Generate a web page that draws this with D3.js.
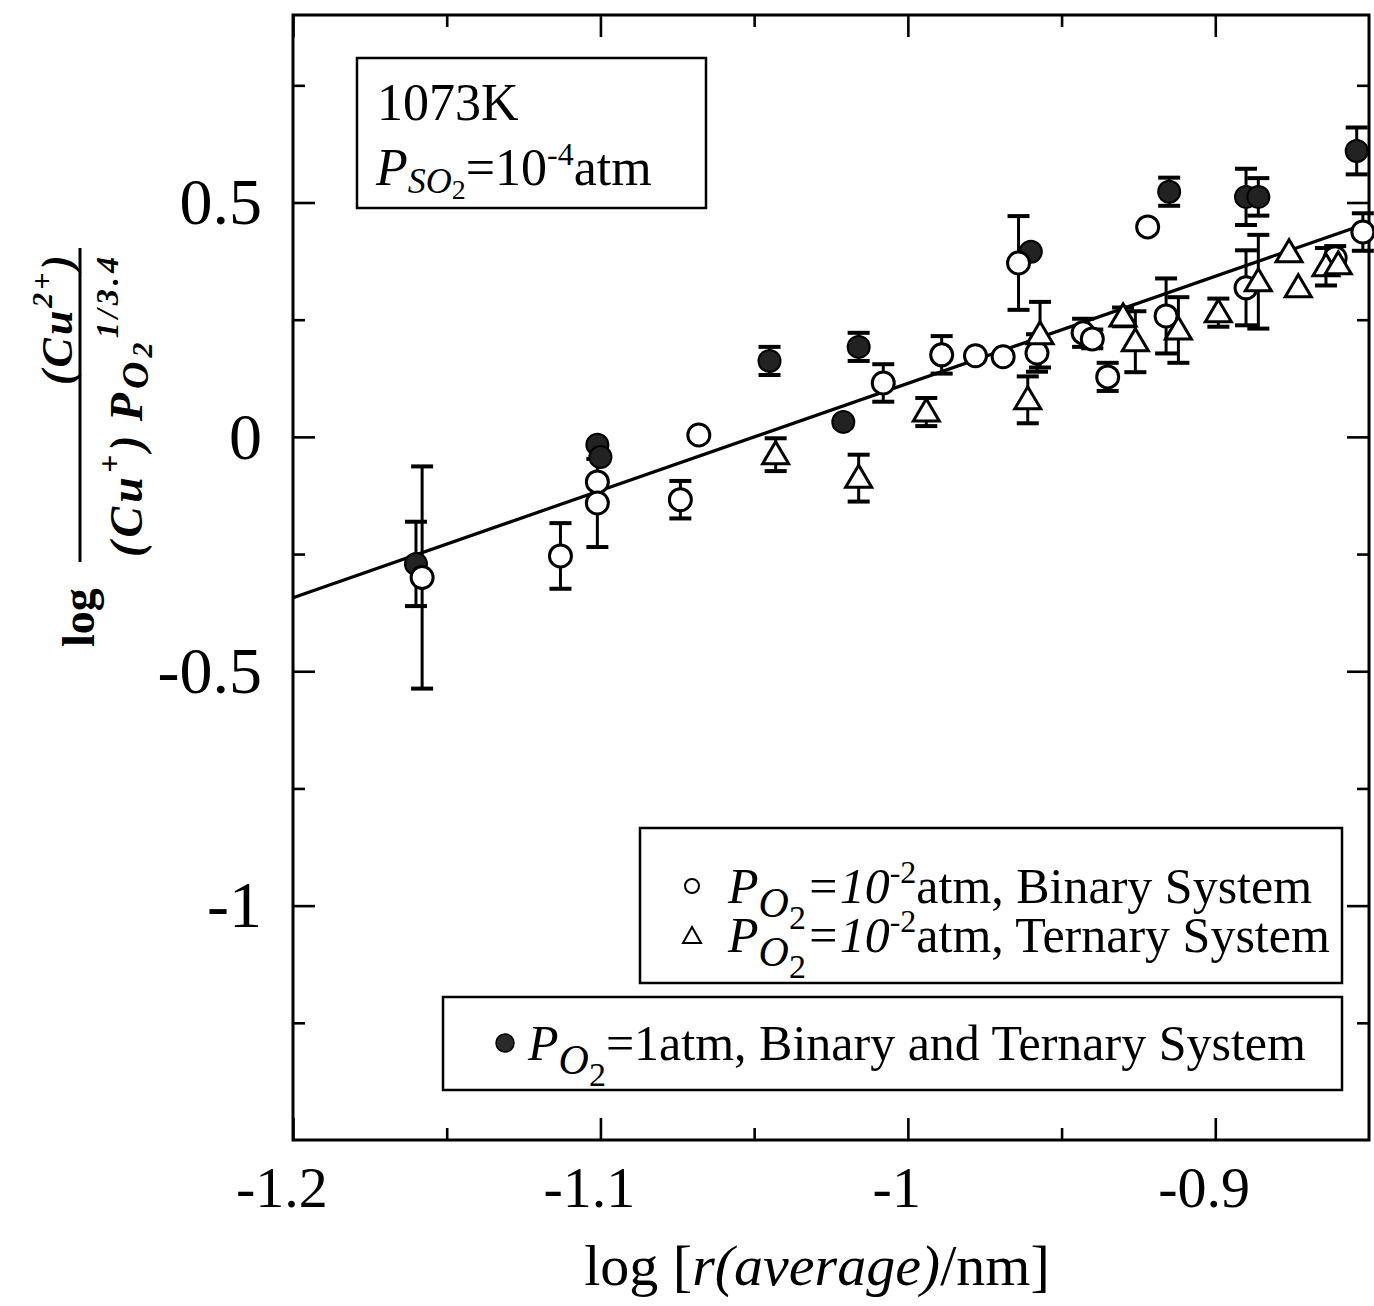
<!DOCTYPE html>
<html>
<head>
<meta charset="utf-8">
<script src="https://cdn.jsdelivr.net/npm/d3@7"></script>
<style>
  body { margin: 0; background: #fff; }
  text { font-family: "Liberation Serif", "Times New Roman", serif; fill: #000; }
</style>
</head>
<body>
<div id="chart"></div>
<script>
// axis ticks
var xMajor = [-1.2, -1.1, -1, -0.9],
    xMinor = [-1.15, -1.05, -0.95],
    yMajor = [0.5, 0, -0.5, -1],
    yMinor = [0.75, 0.25, -0.25, -0.75, -1.25];

// PO2 = 10^-2 atm, binary system (open circles)
var openX   = [-1.158, -1.101, -1.101, -1.113, -1.074, -1.068, -1.008, -0.989, -0.978, -0.969, -0.964, -0.958, -0.943, -0.940, -0.935, -0.922, -0.916, -0.890, -0.861, -0.852],
    openY   = [-0.300, -0.096, -0.141, -0.254, -0.134, 0.004, 0.115, 0.175, 0.173, 0.171, 0.371, 0.179, 0.222, 0.209, 0.128, 0.448, 0.258, 0.318, 0.382, 0.437],
    openErr = [0.237, 0, 0.094, 0.07, 0.04, 0, 0.04, 0.04, 0, 0, 0.10, 0.04, 0.03, 0.02, 0.03, 0, 0.08, 0.08, 0.025, 0.04];

// PO2 = 10^-2 atm, ternary system (open triangles)
var triX   = [-1.043, -1.016, -0.994, -0.961, -0.957, -0.930, -0.926, -0.912, -0.899, -0.886, -0.876, -0.873, -0.864, -0.860],
    triY   = [-0.038, -0.088, 0.053, 0.079, 0.218, 0.256, 0.203, 0.228, 0.265, 0.331, 0.393, 0.318, 0.363, 0.367],
    triErr = [0.035, 0.05, 0.03, 0.05, 0.07, 0.02, 0.065, 0.07, 0.03, 0.10, 0, 0, 0.04, 0];

// PO2 = 1 atm, binary and ternary (filled circles)
var fillX   = [-1.160, -1.101, -1.100, -1.045, -1.021, -1.016, -0.960, -0.915, -0.890, -0.886, -0.854],
    fillY   = [-0.271, -0.017, -0.043, 0.162, 0.032, 0.192, 0.395, 0.523, 0.512, 0.512, 0.610],
    fillErr = [0.09, 0, 0, 0.03, 0, 0.03, 0, 0.03, 0.06, 0.04, 0.05];

// fitted line
var lineX = [-1.2, -0.85],
    lineY = [-0.343, 0.457];

var W = 1374, H = 1306;
var plotL = 293, plotR = 1369, plotT = 15, plotB = 1140;

var svg = d3.select('#chart').append('svg')
    .attr('width', W).attr('height', H);
svg.append('rect').attr('width', W).attr('height', H).attr('fill', '#fff');

var x = d3.scaleLinear().domain([-1.2, -0.85]).range([plotL, plotR]);
var y = d3.scaleLinear().domain([-1.5, 0.9]).range([plotB, plotT]);

function zip(xs, ys, es) {
    return xs.map(function(d, i) { return {x: d, y: ys[i], e: es ? es[i] : 0}; });
}
var openData = zip(openX, openY, openErr),
    triData = zip(triX, triY, triErr),
    fillData = zip(fillX, fillY, fillErr);

// axes (ticks pointing inwards)
function styleAxis(g) {
    g.select('.domain').remove();
    g.selectAll('line').attr('stroke', '#000').attr('stroke-width', 2.6);
    g.selectAll('text').style('font-size', '58px').attr('fill', '#000')
        .style('font-family', '"Liberation Serif", serif');
}
var fmt = function(d) { return String(d); };

svg.append('g').attr('transform', 'translate(0,' + plotB + ')')
    .call(d3.axisBottom(x).tickValues(xMajor).tickSize(-22).tickPadding(26).tickFormat(fmt))
    .call(styleAxis)
    .selectAll('text').attr('dx', '-0.2em');
svg.append('g').attr('transform', 'translate(0,' + plotB + ')')
    .call(d3.axisBottom(x).tickValues(xMinor).tickSize(-12).tickFormat(''))
    .call(styleAxis);
svg.append('g').attr('transform', 'translate(0,' + plotT + ')')
    .call(d3.axisTop(x).tickValues(xMajor).tickSize(-22).tickFormat(''))
    .call(styleAxis);
svg.append('g').attr('transform', 'translate(0,' + plotT + ')')
    .call(d3.axisTop(x).tickValues(xMinor).tickSize(-12).tickFormat(''))
    .call(styleAxis);

svg.append('g').attr('transform', 'translate(' + plotL + ',0)')
    .call(d3.axisLeft(y).tickValues(yMajor).tickSize(-22).tickPadding(31).tickFormat(fmt))
    .call(styleAxis)
    .selectAll('text').style('font-size', '66px');
svg.append('g').attr('transform', 'translate(' + plotL + ',0)')
    .call(d3.axisLeft(y).tickValues(yMinor).tickSize(-12).tickFormat(''))
    .call(styleAxis);
svg.append('g').attr('transform', 'translate(' + plotR + ',0)')
    .call(d3.axisRight(y).tickValues(yMajor).tickSize(-22).tickFormat(''))
    .call(styleAxis);
svg.append('g').attr('transform', 'translate(' + plotR + ',0)')
    .call(d3.axisRight(y).tickValues(yMinor).tickSize(-12).tickFormat(''))
    .call(styleAxis);

svg.append('rect')
    .attr('x', plotL).attr('y', plotT)
    .attr('width', plotR - plotL).attr('height', plotB - plotT)
    .attr('fill', 'none').attr('stroke', '#000').attr('stroke-width', 3);

// fitted line
svg.append('path')
    .datum(d3.zip(lineX, lineY))
    .attr('d', d3.line().x(function(d) { return x(d[0]); }).y(function(d) { return y(d[1]); }))
    .attr('fill', 'none').attr('stroke', '#000').attr('stroke-width', 3.2);

// error bars
function errorBars(data) {
    var g = svg.append('g').attr('stroke', '#000').attr('stroke-width', 3);
    var sel = g.selectAll('g').data(data.filter(function(d) { return d.e > 0; }))
        .enter().append('g');
    sel.append('line')
        .attr('x1', function(d) { return x(d.x); }).attr('x2', function(d) { return x(d.x); })
        .attr('y1', function(d) { return y(d.y + d.e); }).attr('y2', function(d) { return y(d.y - d.e); });
    [1, -1].forEach(function(s) {
        sel.append('line')
            .attr('x1', function(d) { return x(d.x) - 11; }).attr('x2', function(d) { return x(d.x) + 11; })
            .attr('y1', function(d) { return y(d.y + s * d.e); }).attr('y2', function(d) { return y(d.y + s * d.e); })
            .attr('stroke-width', 4);
    });
}
errorBars(fillData);
errorBars(openData);
errorBars(triData);

var triPath = 'M0,-13L13,9L-13,9Z';

svg.append('g').selectAll('circle').data(fillData).enter().append('circle')
    .attr('cx', function(d) { return x(d.x); }).attr('cy', function(d) { return y(d.y); })
    .attr('r', 11).attr('fill', '#222').attr('stroke', '#000').attr('stroke-width', 2);

svg.append('g').selectAll('circle').data(openData).enter().append('circle')
    .attr('cx', function(d) { return x(d.x); }).attr('cy', function(d) { return y(d.y); })
    .attr('r', 11).attr('fill', '#fff').attr('stroke', '#000').attr('stroke-width', 3);

svg.append('g').selectAll('path').data(triData).enter().append('path')
    .attr('transform', function(d) { return 'translate(' + x(d.x) + ',' + y(d.y) + ')'; })
    .attr('d', triPath).attr('fill', '#fff').attr('stroke', '#000')
    .attr('stroke-width', 3).attr('stroke-linejoin', 'miter');

// condition box
svg.append('rect').attr('x', 357).attr('y', 58).attr('width', 349).attr('height', 150)
    .attr('fill', '#fff').attr('stroke', '#000').attr('stroke-width', 2.5);
svg.append('text').attr('x', 377).attr('y', 120).style('font-size', '52px').text('1073K');
var t2 = svg.append('text').attr('x', 376).attr('y', 185).style('font-size', '52px');
t2.append('tspan').style('font-style', 'italic').text('P');
t2.append('tspan').style('font-style', 'italic').style('font-size', '36px').attr('dy', 8).text('SO');
t2.append('tspan').style('font-size', '28px').attr('dy', 6).text('2');
t2.append('tspan').attr('dy', -14).text('=10');
t2.append('tspan').style('font-size', '32px').attr('dy', -20).text('-4');
t2.append('tspan').attr('dy', 20).text('atm');

// legend 1
svg.append('rect').attr('x', 640).attr('y', 828).attr('width', 702).attr('height', 155)
    .attr('fill', '#fff').attr('stroke', '#000').attr('stroke-width', 2.5);
svg.append('circle').attr('cx', 692).attr('cy', 886).attr('r', 7)
    .attr('fill', '#fff').attr('stroke', '#000').attr('stroke-width', 2);
svg.append('path').attr('transform', 'translate(692,936)').attr('d', 'M0,-9L9,7L-9,7Z')
    .attr('fill', '#fff').attr('stroke', '#000').attr('stroke-width', 2);

function legendLine(xp, yp, rest, italicTen) {
    var t = svg.append('text').attr('x', xp).attr('y', yp).style('font-size', '50px');
    t.append('tspan').style('font-style', 'italic').text('P');
    t.append('tspan').style('font-style', 'italic').style('font-size', '42px').attr('dy', 14).text('O');
    t.append('tspan').style('font-size', '34px').attr('dy', 12).text('2');
    if (italicTen) {
        t.append('tspan').attr('dy', -26).style('font-style', 'italic').text('=10');
        t.append('tspan').style('font-size', '32px').attr('dy', -20).text('-2');
        t.append('tspan').attr('dy', 20).text(rest);
    } else {
        t.append('tspan').attr('dy', -26).text(rest);
    }
}
legendLine(728, 903, 'atm, Binary System', true);
legendLine(728, 952, 'atm, Ternary System', true);

// legend 2
svg.append('rect').attr('x', 443).attr('y', 997).attr('width', 899).attr('height', 93)
    .attr('fill', '#fff').attr('stroke', '#000').attr('stroke-width', 2.5);
svg.append('circle').attr('cx', 505).attr('cy', 1043).attr('r', 9)
    .attr('fill', '#2a2a2a').attr('stroke', '#000').attr('stroke-width', 1.5);
legendLine(528, 1060, '=1atm, Binary and Ternary System', false);

// x axis title
var xt = svg.append('text').attr('x', 817).attr('y', 1285)
    .attr('text-anchor', 'middle').style('font-size', '58px');
xt.append('tspan').text('log [');
xt.append('tspan').style('font-style', 'italic').text('r(average)');
xt.append('tspan').text('/nm]');

// y axis title
var yt = svg.append('g').style('font-weight', 'bold');
yt.append('text').attr('transform', 'translate(94,647) rotate(-90)')
    .style('font-size', '46px').text('log');
yt.append('line').attr('x1', 80).attr('x2', 80).attr('y1', 248).attr('y2', 562)
    .attr('stroke', '#000').attr('stroke-width', 3);
var num = yt.append('text').attr('transform', 'translate(72,385) rotate(-90)')
    .style('font-size', '44px').style('font-style', 'italic')
    .attr('textLength', 130).attr('lengthAdjust', 'spacing');
num.append('tspan').text('(Cu');
num.append('tspan').style('font-size', '30px').attr('dy', -20).text('2+');
num.append('tspan').attr('dy', 20).text(')');
var den = yt.append('text').attr('transform', 'translate(142,557) rotate(-90)')
    .style('font-size', '46px').style('font-style', 'italic')
    .attr('textLength', 300).attr('lengthAdjust', 'spacing');
den.append('tspan').text('(Cu');
den.append('tspan').style('font-size', '32px').attr('dy', -22).text('+');
den.append('tspan').attr('dy', 22).text(')');
den.append('tspan').attr('dx', 10).text('P');
den.append('tspan').style('font-size', '38px').attr('dy', 6).text('O');
den.append('tspan').style('font-size', '30px').attr('dy', 4).text('2');
den.append('tspan').style('font-size', '32px').attr('dy', -34).text('1/3.4');
</script>
</body>
</html>
